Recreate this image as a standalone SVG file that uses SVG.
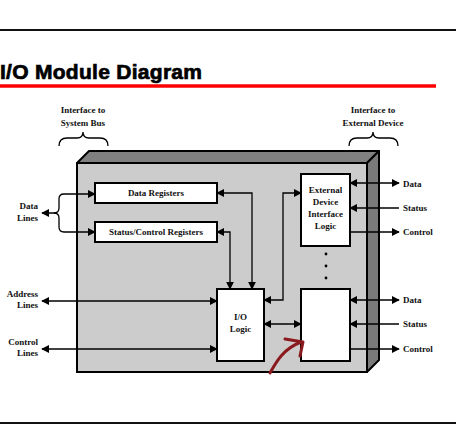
<svg xmlns="http://www.w3.org/2000/svg" width="456" height="440" viewBox="0 0 456 440">
<defs>
<marker id="ah" viewBox="0 0 10 10" refX="9" refY="5" markerWidth="8" markerHeight="8" markerUnits="userSpaceOnUse" orient="auto-start-reverse">
<path d="M0,0 L10,5 L0,10 z" fill="#000"/>
</marker>
<style>
.t{font-family:"Liberation Serif","Times New Roman",serif;font-weight:bold;font-size:9px;fill:#111}
.c{stroke:#000;stroke-width:1.3;fill:none}
.box{fill:#fff;stroke:#000;stroke-width:2}
.br{stroke:#000;stroke-width:1.3;fill:none}
</style>
</defs>
<rect width="456" height="440" fill="#fff"/>
<line x1="0" y1="30" x2="456" y2="30" stroke="#111" stroke-width="2"/>
<text x="0" y="79" font-family="'Liberation Sans',Arial,sans-serif" font-weight="bold" font-size="21" textLength="202" lengthAdjust="spacing" fill="#000" stroke="#000" stroke-width="0.7">I/O Module Diagram</text>
<line x1="0" y1="86" x2="436" y2="86" stroke="#ff0000" stroke-width="3.5"/>
<line x1="0" y1="423" x2="456" y2="423" stroke="#111" stroke-width="2"/>

<g id="labels-top">
<text class="t" x="83" y="113" text-anchor="middle">Interface to</text>
<text class="t" x="83" y="126" text-anchor="middle">System Bus</text>
<path class="br" d="M59,146 Q59,138 67,138 H77 Q83,138 83,132 Q83,138 89,138 H100 Q108,138 108,146"/>
<text class="t" x="373" y="113" text-anchor="middle">Interface to</text>
<text class="t" x="373" y="126" text-anchor="middle">External Device</text>
<path class="br" d="M349,146 Q349,138 357,138 H367 Q373,138 373,132 Q373,138 379,138 H390 Q398,138 398,146"/>
</g>

<g id="module">
<polygon points="77,163 89,151 379,151 367,163" fill="#808080" stroke="#000" stroke-width="2" stroke-linejoin="round"/>
<polygon points="367,163 379,151 379,360 367,372" fill="#7a7a7a" stroke="#000" stroke-width="2" stroke-linejoin="round"/>
<rect x="77" y="163" width="290" height="209" fill="#cccccc" stroke="#000" stroke-width="2"/>
</g>

<g id="data-registers">
<rect class="box" x="95" y="183" width="122" height="20"/>
<text class="t" x="156" y="196" text-anchor="middle">Data Registers</text>
</g>
<g id="status-control-registers">
<rect class="box" x="95" y="222" width="122" height="20"/>
<text class="t" x="156" y="235" text-anchor="middle">Status/Control Registers</text>
</g>
<g id="io-logic">
<rect class="box" x="217" y="289" width="47" height="72"/>
<text class="t" x="240.5" y="320" text-anchor="middle">I/O</text>
<text class="t" x="240.5" y="332" text-anchor="middle">Logic</text>
</g>
<g id="external-device-interface-logic">
<rect class="box" x="301" y="174" width="49" height="72"/>
<text class="t" x="325.5" y="193" text-anchor="middle">External</text>
<text class="t" x="325.5" y="205" text-anchor="middle">Device</text>
<text class="t" x="325.5" y="217" text-anchor="middle">Interface</text>
<text class="t" x="325.5" y="229" text-anchor="middle">Logic</text>
</g>
<g id="external-device-interface-logic-2">
<rect class="box" x="301" y="289" width="49" height="72"/>
</g>
<g id="dots" fill="#000">
<circle cx="326" cy="254" r="1.4"/>
<circle cx="326" cy="266" r="1.4"/>
<circle cx="326" cy="278" r="1.4"/>
</g>

<g id="side-labels">
<text class="t" x="38" y="209" text-anchor="end">Data</text>
<text class="t" x="38" y="221" text-anchor="end">Lines</text>
<text class="t" x="38" y="297" text-anchor="end">Address</text>
<text class="t" x="38" y="308" text-anchor="end">Lines</text>
<text class="t" x="38" y="345" text-anchor="end">Control</text>
<text class="t" x="38" y="356" text-anchor="end">Lines</text>
<text class="t" x="403" y="187">Data</text>
<text class="t" x="403" y="211">Status</text>
<text class="t" x="403" y="235">Control</text>
<text class="t" x="403" y="303">Data</text>
<text class="t" x="403" y="327">Status</text>
<text class="t" x="403" y="352">Control</text>
</g>

<g id="connectors">
<path class="c" d="M42,213 H54 Q59,213 59,208 V199 Q59,194 64,194 H95" marker-start="url(#ah)" marker-end="url(#ah)"/>
<path class="c" d="M54,213 Q59,213 59,218 V227 Q59,232 64,232 H95" marker-end="url(#ah)"/>
<path class="c" d="M42,301 H217" marker-start="url(#ah)" marker-end="url(#ah)"/>
<path class="c" d="M42,349 H217" marker-start="url(#ah)" marker-end="url(#ah)"/>
<path class="c" d="M217,193 H252 V289" marker-start="url(#ah)" marker-end="url(#ah)"/>
<path class="c" d="M217,232 H230 V289" marker-start="url(#ah)" marker-end="url(#ah)"/>
<path class="c" d="M264,300 H283 V193 H301" marker-start="url(#ah)" marker-end="url(#ah)"/>
<path class="c" d="M264,324 H301" marker-start="url(#ah)" marker-end="url(#ah)"/>
<path class="c" d="M350,183 H399" marker-start="url(#ah)" marker-end="url(#ah)"/>
<path class="c" d="M399,208 H350" marker-end="url(#ah)"/>
<path class="c" d="M350,232 H399" marker-end="url(#ah)"/>
<path class="c" d="M350,300 H399" marker-start="url(#ah)" marker-end="url(#ah)"/>
<path class="c" d="M399,324 H350" marker-end="url(#ah)"/>
<path class="c" d="M350,349 H399" marker-end="url(#ah)"/>
</g>

<g id="annotation" stroke="#8b1a1f" stroke-width="3" fill="none" stroke-linecap="round" stroke-linejoin="round">
<path d="M270,373 C276,362 283,349 301,342"/>
<path d="M285,339 L303,342 L300,356"/>
</g>
</svg>
